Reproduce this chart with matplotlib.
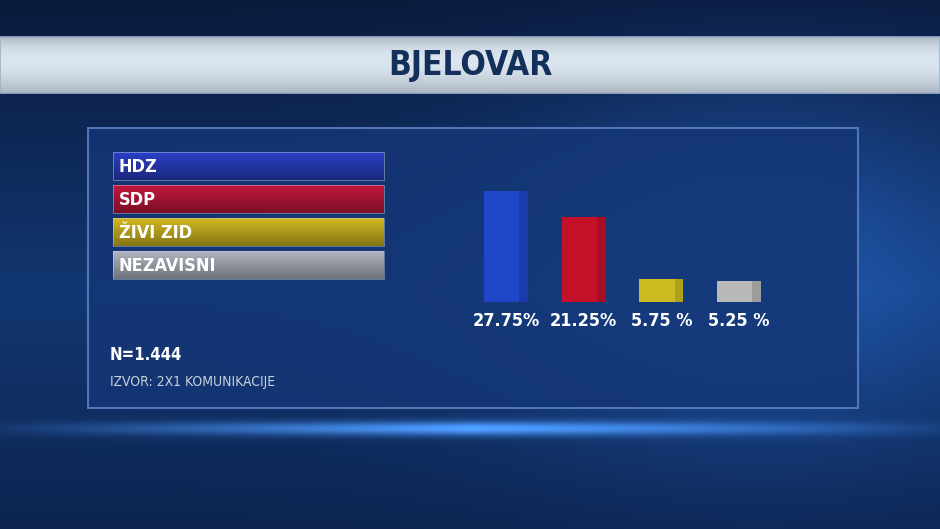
import numpy as np
import matplotlib
matplotlib.use("Agg")
import matplotlib.pyplot as plt
from matplotlib.patches import Rectangle
from matplotlib.colors import to_rgb

# ---- data ----
title = "BJELOVAR"
parties = ["HDZ", "SDP", "ŽIVI ZID", "NEZAVISNI"]
values = [27.75, 21.25, 5.75, 5.25]
value_labels = ["27.75%", "21.25%", "5.75 %", "5.25 %"]
sample_note = "N=1.444"
source_note = "IZVOR: 2X1 KOMUNIKACIJE"

bar_colors = ["#1f45c8", "#c5102a", "#cdbb22", "#b9b9b9"]
legend_colors = ["#22339e", "#9b1230", "#a8931a", "#8c9099"]

FONT = ["DejaVu Sans"]
STRETCH = "condensed"

W, H = 940, 529
fig = plt.figure(figsize=(W / 100, H / 100), dpi=100)

# ---- background axes in pixel coords ----
bg = fig.add_axes([0, 0, 1, 1])
bg.set_xlim(0, W)
bg.set_ylim(H, 0)
bg.axis("off")

yy, xx = np.mgrid[0:H, 0:W]
top_c = np.array(to_rgb("#0a1a3c"))
mid_c = np.array(to_rgb("#123772"))
bot_c = np.array(to_rgb("#0d2450"))
t = yy / H
img = np.where((t < 0.55)[..., None],
               top_c + (mid_c - top_c) * (t / 0.55)[..., None],
               mid_c + (bot_c - mid_c) * ((t - 0.55) / 0.45)[..., None])
glow = np.exp(-(((xx - 760) / 260.0) ** 2 + ((yy - 260) / 200.0) ** 2))
img = img + glow[..., None] * np.array([0.05, 0.12, 0.22])
streak = np.exp(-((yy - 428) / 7.0) ** 2) * np.clip(1 - np.abs(xx - 470) / 520, 0, 1)
img = img + streak[..., None] * np.array([0.25, 0.45, 0.65])
img = np.clip(img, 0, 1)
bg.imshow(img, extent=[0, W, H, 0], aspect="auto", zorder=0)

# title band (silver gradient)
band = np.linspace(0, 1, 60)
silver = np.array([0.74, 0.78, 0.82])[None, :] + (0.18 * np.sin(np.pi * band ** 0.8) - 0.06)[:, None]
silver = np.clip(silver, 0, 1)[:, None, :].repeat(2, axis=1)
bg.imshow(silver, extent=[0, W, 93, 37], aspect="auto", zorder=1)
bg.add_patch(Rectangle((0, 37), W, 56, fill=False, ec="#9fb0c8", lw=1.2, zorder=2))
bg.text(470, 66, title, ha="center", va="center", fontsize=24, fontweight="bold",
        color="#13305a", family=FONT, fontstretch=STRETCH, zorder=3)

# panel
bg.add_patch(Rectangle((88, 128), 770, 280, fc="#143675", ec="#5c82c6", lw=1.5,
                       alpha=0.85, zorder=2))

# legend bars with vertical gradient
lx0, lx1 = 113, 384
ly = [152, 185, 218, 251]
lh = 28
for name, col, y0 in zip(parties, legend_colors, ly):
    c = np.array(to_rgb(col))
    g = np.linspace(0, 1, 30)
    grad = c[None, :] * (1.25 - 0.45 * g)[:, None]
    grad = np.clip(grad, 0, 1)[:, None, :].repeat(2, axis=1)
    bg.imshow(grad, extent=[lx0, lx1, y0 + lh, y0], aspect="auto", zorder=3)
    bg.add_patch(Rectangle((lx0, y0), lx1 - lx0, lh, fill=False, ec="#d0d8e8",
                           lw=0.6, alpha=0.5, zorder=4))
    bg.text(lx0 + 6, y0 + lh / 2 + 1, name, ha="left", va="center", fontsize=13,
            fontweight="bold", color="white", family=FONT, fontstretch=STRETCH, zorder=5)

bg.text(110, 355, sample_note, ha="left", va="center", fontsize=12, fontweight="bold",
        color="white", family=FONT, fontstretch=STRETCH, zorder=5)
bg.text(110, 382, source_note, ha="left", va="center", fontsize=10,
        color="#c8d0dc", family=FONT, fontstretch=STRETCH, zorder=5)

# ---- bar chart axes ----
x = np.arange(len(values))
spacing = (739 - 506) / 3
left_px = 506 - 0.5 * spacing
right_px = 739 + 0.5 * spacing
ax = fig.add_axes([left_px / W, (H - 302) / H, (right_px - left_px) / W, 111 / H])
ax.set_xlim(-0.5, 3.5)
ax.set_ylim(0, max(values))
ax.axis("off")
ax.patch.set_alpha(0)
bw = 44 / spacing
ax.bar(x, values, width=bw, color=bar_colors, edgecolor="none", zorder=2)
for xi, v, col in zip(x, values, bar_colors):
    c = np.array(to_rgb(col)) * 0.85
    ax.bar(xi + bw * 0.4, v, width=bw * 0.2, color=c, edgecolor="none", zorder=3)
for xi, lab in zip(x, value_labels):
    ax.annotate(lab, (xi, 0), xytext=(0, -14), textcoords="offset points",
                ha="center", va="center", fontsize=13, fontweight="bold",
                color="white", family=FONT, fontstretch=STRETCH, annotation_clip=False)

fig.savefig("out.png", dpi=100)
